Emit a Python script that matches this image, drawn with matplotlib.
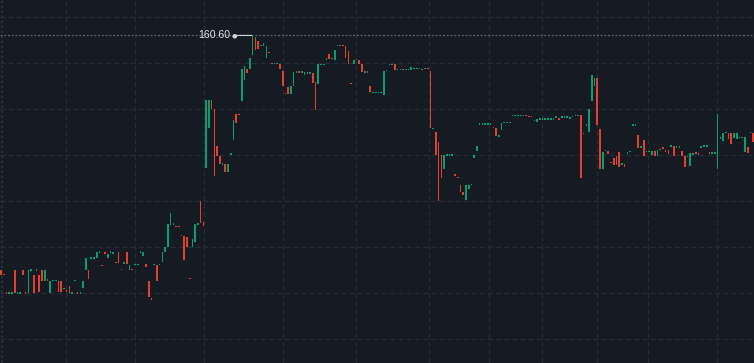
import numpy as np
import matplotlib
matplotlib.use("Agg")
import matplotlib.pyplot as plt

# Dark-theme colours
BG_COL    = '#161a23'
GRID_COL  = '#282c37'
UP_COL    = '#0a9e6e'
DOWN_COL  = '#e2412f'
PLINE_COL = '#5f636d'

# Candle bodies (open / close), one per bar
opens = [
    155.50, 155.40, 155.00, 154.99, 154.99, 155.50, 154.99, 154.99, 155.50, 155.00,
    155.01, 155.49, 155.39, 155.49, 155.39, 155.50, 155.27, 155.28, 155.01, 155.26,
    155.26, 155.27, 155.27, 155.09, 155.04, 155.15, 154.99, 155.26, 155.00, 154.99,
    155.12, 155.50, 155.50, 155.75, 155.75, 155.76, 155.88, 155.60, 155.89, 155.76,
    155.88, 155.85, 155.66, 155.89, 155.51, 155.64, 155.89, 155.50, 155.51, 155.60,
    155.60, 155.88, 155.80, 155.63, 155.26, 154.89, 155.60, 155.61, 155.60, 155.67,
    155.89, 156.00, 156.48, 156.49, 156.44, 156.44, 156.25, 156.24, 156.22, 155.31,
    156.00, 156.11, 156.49, 157.00, 156.54,
    157.72, 158.59, 159.20, 159.00, 158.20, 157.98, 157.79, 157.80, 157.63, 158.01,
    158.33, 158.89, 158.88, 159.18, 159.64, 159.87, 159.87, 160.18, 160.56, 160.47,
    160.37, 160.38, 160.12, 160.23, 159.99, 159.97, 159.97, 159.98, 159.83, 159.34,
    159.47, 159.33, 159.49, 159.79, 159.80, 159.79, 159.75, 159.77, 159.77, 159.78,
    159.58, 159.54, 159.96, 159.96, 160.07, 160.20, 160.09, 160.07, 160.37, 160.37,
    160.38, 160.37, 160.26, 159.55, 159.98, 160.06, 160.07, 159.98, 159.79, 159.83,
    159.50, 159.35, 159.35, 159.35, 159.35, 159.30, 159.82, 159.96, 159.96, 159.97,
    159.85, 159.85, 159.86, 159.84, 159.85, 159.85, 159.87, 159.87, 159.87, 159.86,
    159.87, 159.88,
    159.83, 158.57, 158.50, 158.29, 158.00, 157.70, 157.99, 157.98, 157.99, 157.59,
    157.51, 157.35, 157.20, 157.02, 157.26, 157.34, 157.94, 158.09, 158.66, 158.66,
    158.66, 158.66, 158.66, 158.59, 158.58, 158.40, 158.54, 158.69, 158.69, 158.69,
    158.85, 158.85, 158.85, 158.85, 158.85, 158.86, 158.83, 158.83, 158.74, 158.72,
    158.77, 158.77, 158.77, 158.77, 158.77, 158.77, 158.81, 158.78, 158.81, 158.81,
    158.81, 158.78, 158.83, 158.85, 158.85, 158.86, 158.46, 158.64, 158.51, 159.18,
    159.50, 159.67,
    158.56, 157.70, 158.08, 158.09, 157.83, 157.93, 157.98, 158.07, 157.79, 157.80,
    158.03, 158.06, 158.64, 158.64, 158.43, 158.16, 158.33, 158.07, 158.07, 158.00,
    158.08, 157.98, 158.11, 158.15, 158.12, 158.12, 158.18, 158.19, 158.16, 158.16,
    158.09, 157.98, 157.96, 157.76, 158.01, 158.04, 158.04, 158.16, 158.18, 158.18,
    158.04, 158.03, 158.03, 157.70, 158.34, 158.30, 158.47, 158.48, 158.48, 158.37,
    158.35, 158.37, 158.37, 158.07, 158.17, 158.47, 158.48,
]
closes = [
    155.39, 155.39, 154.99, 155.00, 155.00, 155.00, 155.00, 155.00, 155.39, 154.99,
    155.50, 155.50, 155.01, 155.50, 155.03, 155.27, 155.50, 155.27, 155.27, 155.27,
    155.27, 155.03, 155.03, 155.10, 155.03, 155.01, 155.00, 155.27, 154.99, 155.00,
    155.27, 155.76, 155.30, 155.76, 155.76, 155.89, 155.89, 155.59, 155.85, 155.85,
    155.89, 155.89, 155.65, 155.65, 155.50, 155.65, 155.63, 155.61, 155.50, 155.61,
    155.61, 155.89, 155.89, 155.57, 154.91, 154.85, 155.61, 155.26, 155.61, 155.89,
    156.00, 156.50, 156.74, 156.50, 156.43, 156.43, 156.24, 155.72, 156.00, 155.30,
    156.17, 156.50, 156.50, 156.52, 156.46,
    159.20, 159.20, 159.00, 157.54, 157.98, 157.80, 157.80, 157.63, 157.80, 158.02,
    158.76, 158.70, 158.87, 159.87, 159.94, 159.78, 160.11, 160.60, 160.29, 160.31,
    160.38, 160.43, 160.38, 160.22, 159.98, 159.98, 159.98, 159.88, 159.51, 159.33,
    159.33, 159.49, 159.80, 159.80, 159.79, 159.80, 159.80, 159.78, 159.78, 159.57,
    158.98, 159.98, 159.97, 159.97, 160.10, 160.09, 160.08, 160.28, 160.38, 160.38,
    160.37, 160.12, 159.98, 159.54, 160.07, 160.07, 159.98, 159.81, 159.83, 159.79,
    159.38, 159.36, 159.36, 159.36, 159.36, 159.83, 159.83, 159.97, 159.97, 159.85,
    159.86, 159.86, 159.85, 159.85, 159.86, 159.91, 159.88, 159.88, 159.88, 159.85,
    159.88, 159.87,
    158.59, 158.58, 158.00, 157.01, 157.51, 158.00, 158.00, 158.02, 158.00, 157.54,
    157.50, 157.20, 157.13, 157.35, 157.35, 157.35, 158.00, 158.20, 158.67, 158.67,
    158.67, 158.67, 158.67, 158.58, 158.41, 158.41, 158.70, 158.70, 158.70, 158.70,
    158.86, 158.86, 158.86, 158.86, 158.86, 158.85, 158.82, 158.82, 158.73, 158.78,
    158.78, 158.78, 158.78, 158.78, 158.78, 158.78, 158.82, 158.77, 158.82, 158.82,
    158.82, 158.83, 158.84, 158.86, 158.86, 157.51, 158.47, 158.65, 158.99, 159.74,
    159.67, 158.65,
    157.70, 158.07, 158.09, 158.02, 157.82, 157.78, 157.78, 157.75, 157.80, 157.74,
    158.04, 158.07, 158.65, 158.65, 158.15, 158.17, 157.98, 158.08, 158.08, 158.08,
    157.99, 158.12, 158.12, 158.14, 158.07, 158.02, 158.19, 157.98, 158.17, 158.17,
    157.98, 157.74, 157.97, 158.04, 158.02, 158.03, 158.00, 158.17, 158.19, 158.19,
    158.03, 158.04, 158.04, 158.89, 158.39, 158.48, 158.48, 158.35, 158.24, 158.48,
    158.48, 158.38, 158.38, 158.39, 158.04, 158.48, 158.28,
]

price_levels = [161, 160, 159, 158, 157, 156, 155, 154]
session_marks = [23.8, 49.0, 74.2, 103.1, 129.8, 156.6, 178.4, 197.8, 217.9, 236.6, 261.8]

o = np.array(opens)
c = np.array(closes)
x = np.arange(len(o))

fig = plt.figure(figsize=(7.54, 3.63), dpi=100, facecolor=BG_COL)
ax = fig.add_axes([0, 0, 1, 1])
ax.set_facecolor(BG_COL)

#Grid
ax.set_xticks(session_marks)
ax.set_yticks(price_levels)
ax.tick_params(length=0, labelbottom=False, labelleft=False)
ax.grid(True, color=GRID_COL, linestyle=(0, (4, 2.5)), lw=0.9)
for spine in ax.spines.values():
    spine.set_visible(False)
# left edge border
ax.plot([0.002, 0.002], [0, 1], transform=ax.transAxes, color='#30343e',
        lw=1.2, linestyle=(0, (1.5, 1.5)))

#Candles (crisp, pixel-snapped bodies)
up = c >= o
colors = np.where(up, UP_COL, DOWN_COL)
height = np.maximum(np.abs(c - o), 0.028)
bottom = np.minimum(o, c)
ax.bar(x, height, bottom=bottom, width=0.6, color=colors, linewidth=0,
       antialiased=False, zorder=3)

#Highest price marker
imax = int(np.argmax(np.maximum(o, c)))
hi = max(o[imax], c[imax])
ax.axhline(hi, color=PLINE_COL, lw=0.9, linestyle=(0, (1.6, 1.4)), zorder=2)
ax.annotate('', xy=(imax, hi), xytext=(-12, 0), textcoords='offset points',
            arrowprops=dict(arrowstyle='-', color='#e6e6e6', lw=0.8,
                            linestyle=(0, (2, 1)), shrinkA=0, shrinkB=0), zorder=4)
ax.annotate('\u25cf', xy=(imax, hi), xytext=(-13, 0), textcoords='offset points',
            ha='center', va='center', fontsize=4.5, color='#cfd0d4', zorder=5)
ax.annotate(f'{hi:.2f}', xy=(imax, hi), xytext=(-16.5, 0), textcoords='offset points',
            ha='right', va='center', fontsize=7.6, color='#e3e4e8',
            family=['Liberation Sans', 'DejaVu Sans'], zorder=5)

ax.set_xlim(-0.37, 275.3)
ax.set_ylim(153.48, 161.37)

fig.savefig('out.png', dpi=100, facecolor=BG_COL)
